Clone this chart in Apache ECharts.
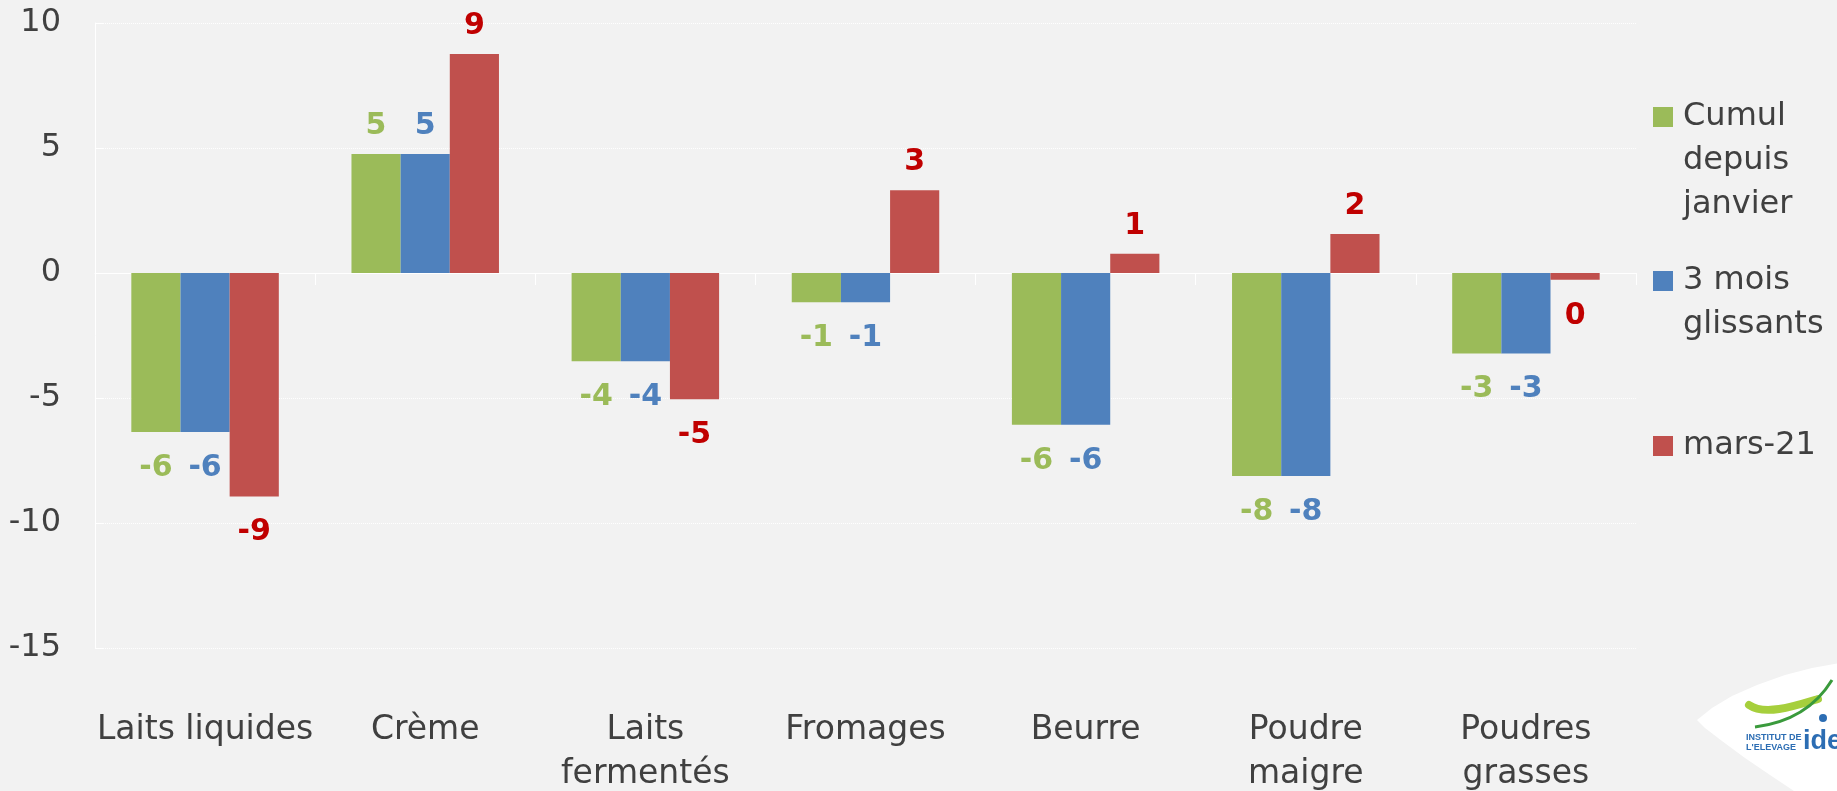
<!DOCTYPE html>
<html>
<head>
<meta charset="utf-8">
<script src="https://cdn.jsdelivr.net/npm/echarts@6/dist/echarts.min.js"></script>
<style>
  html, body { margin: 0; padding: 0; background: #f2f2f2; }
  #chart { width: 1837px; height: 791px; }
</style>
</head>
<body>
<div id="chart"></div>
<script>
const categories = ['Laits liquides', 'Crème', 'Laits\nfermentés', 'Fromages', 'Beurre', 'Poudre\nmaigre', 'Poudres\ngrasses']
const seriesNames = ['Cumul\ndepuis\njanvier', '3 mois\nglissants', 'mars-21']
const cumulJanvier = [-6.36, 4.76, -3.53, -1.17, -6.07, -8.12, -3.22]
const troisMois = [-6.36, 4.76, -3.53, -1.17, -6.07, -8.12, -3.22]
const mars21 = [-8.94, 8.76, -5.05, 3.31, 0.77, 1.56, -0.27]
const yTicks = { min: -15, max: 10, interval: 5 }

const barColors = ['#9bbb59', '#4f81bd', '#c0504d']
const labelColors = ['#9bbb59', '#4f81bd', '#c00000']
const font = '"DejaVu Sans", sans-serif'

const chart = echarts.init(document.getElementById('chart'))

function makeSeries(name, values, i) {
  return {
    name: name,
    type: 'bar',
    xAxisIndex: 0,
    barGap: '0%',
    barCategoryGap: '33%',
    itemStyle: { color: barColors[i] },
    label: {
      show: true,
      color: labelColors[i],
      fontFamily: font,
      fontWeight: 'bold',
      fontSize: 30,
      formatter: (p) => String(Math.round(p.value)),
    },
    // negative bars get their value under the bar
    data: values.map((v) => ({
      value: v,
      label: v < 0 ? { position: 'bottom', distance: 21 } : { position: 'top', distance: 13 },
    })),
  }
}

// blank lines above the name keep the icon level with the first line
function legendFor(name, top) {
  const lines = name.split('\n').length
  return {
    orient: 'vertical',
    left: 1648,
    top: top,
    icon: 'rect',
    itemWidth: 20,
    itemHeight: 20,
    selectedMode: false,
    formatter: (n) => '\n'.repeat(lines - 1) + n,
    textStyle: {
      fontFamily: font,
      fontSize: 32,
      color: '#404040',
      lineHeight: 44,
      padding: [0, 0, 0, 5],
    },
    data: [name],
  }
}

chart.setOption({
  backgroundColor: '#f2f2f2',
  animation: false,
  legend: [
    legendFor(seriesNames[0], 2),
    legendFor(seriesNames[1], 210),
    legendFor(seriesNames[2], 419),
  ],
  grid: {
    left: 95,
    right: 201,
    top: 23,
    bottom: 143,
    containLabel: false,
    outerBoundsMode: 'none',
  },
  xAxis: [
    {
      type: 'category',
      data: categories,
      axisLine: { show: false, onZero: false },
      axisTick: { show: false },
      axisLabel: {
        color: '#404040',
        fontFamily: font,
        fontSize: 33,
        lineHeight: 44,
        margin: 60,
        interval: 0,
      },
    },
    {
      type: 'category',
      data: categories,
      position: 'top',
      axisLine: { show: true, onZero: true, lineStyle: { color: '#ffffff', width: 1 } },
      axisTick: { show: true, inside: true, length: 12, lineStyle: { color: '#ffffff' } },
      axisLabel: { show: false },
    },
  ],
  yAxis: {
    type: 'value',
    min: yTicks.min,
    max: yTicks.max,
    interval: yTicks.interval,
    axisLine: { show: true, lineStyle: { color: '#ffffff', width: 1 } },
    axisTick: { show: true, inside: true, length: 9, lineStyle: { color: '#ffffff' } },
    axisLabel: {
      color: '#404040',
      fontFamily: font,
      fontSize: 32,
      margin: 34,
    },
    splitLine: {
      show: true,
      lineStyle: { color: '#ffffff', type: 'dotted', width: 1 },
    },
  },
  graphic: [
    {
      type: 'polygon',
      shape: {
        points: [
          [1697, 720], [1712, 708], [1732, 696], [1757, 685], [1785, 675], [1812, 668], [1840, 663],
          [1840, 791], [1794, 791], [1770, 775], [1745, 758], [1722, 741], [1705, 728],
        ],
      },
      style: { fill: '#ffffff' },
      z: 1,
    },
    {
      type: 'bezierCurve',
      shape: { x1: 1749, y1: 705, x2: 1818, y2: 699, cpx1: 1765, cpy1: 716, cpx2: 1795, cpy2: 706 },
      style: { stroke: '#a6cf3c', lineWidth: 8, fill: null, lineCap: 'round' },
      z: 2,
    },
    {
      type: 'bezierCurve',
      shape: { x1: 1755, y1: 727, x2: 1832, y2: 680, cpx1: 1795, cpy1: 722, cpx2: 1818, cpy2: 703 },
      style: { stroke: '#3a9a3c', lineWidth: 3, fill: null },
      z: 2,
    },
    {
      type: 'circle',
      shape: { cx: 1823, cy: 718, r: 4 },
      style: { fill: '#2c6db3' },
      z: 2,
    },
    {
      type: 'text',
      x: 1746, y: 738,
      style: { text: 'INSTITUT DE', fill: '#2c6db3', font: 'bold 9px "Liberation Sans", sans-serif', verticalAlign: 'middle' },
      z: 2,
    },
    {
      type: 'text',
      x: 1746, y: 748,
      style: { text: "L'ELEVAGE", fill: '#2c6db3', font: 'bold 9px "Liberation Sans", sans-serif', verticalAlign: 'middle' },
      z: 2,
    },
    {
      type: 'text',
      x: 1803, y: 742,
      style: { text: 'idele', fill: '#2c6db3', font: 'bold 27px "Liberation Sans", sans-serif', verticalAlign: 'middle' },
      z: 2,
    },
  ],
  series: [
    makeSeries(seriesNames[0], cumulJanvier, 0),
    makeSeries(seriesNames[1], troisMois, 1),
    makeSeries(seriesNames[2], mars21, 2),
  ],
})
</script>
</body>
</html>
